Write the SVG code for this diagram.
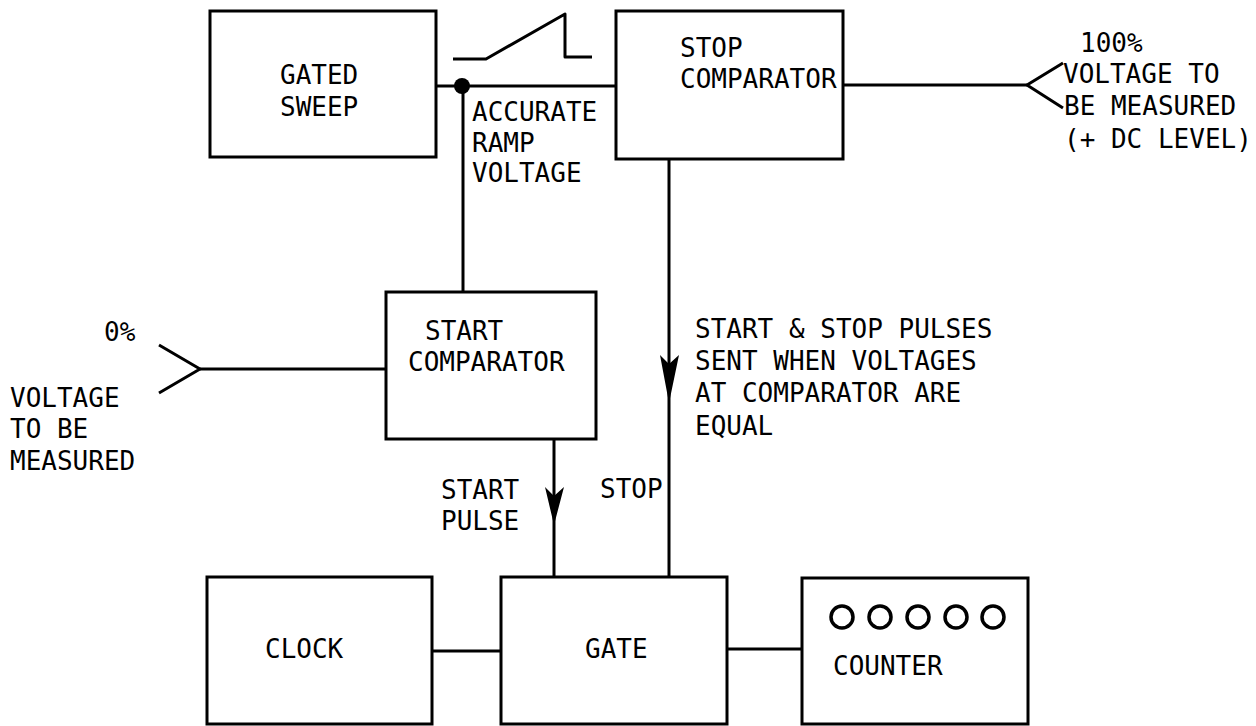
<svg xmlns="http://www.w3.org/2000/svg" width="1256" height="726" viewBox="0 0 1256 726">
<style>
.box{fill:#fff;stroke:#000;stroke-width:3}
.ln{fill:none;stroke:#000;stroke-width:3;stroke-linejoin:round}
.t{font-family:"DejaVu Sans Mono","Liberation Mono",monospace;font-size:26px;fill:#000}
</style>
<rect width="1256" height="726" fill="#fff"/>
<g id="connectors">
<polyline class="ln" points="436,86 616,86"/>
<polyline class="ln" points="463,86 463,292"/>
<polyline class="ln" points="843,85 1027,85"/>
<polyline class="ln" points="1063,63 1027,85 1063,108"/>
<polyline class="ln" points="200,369 386,369"/>
<polyline class="ln" points="159,345 200,369 159,393"/>
<polyline class="ln" points="554,440 554,577"/>
<path d="M545,487 L554,496 L564,487 L554,525 Z" fill="#000"/>
<polyline class="ln" points="669,160 669,577"/>
<path d="M660,355 L669,364 L679,355 L669,403 Z" fill="#000"/>
<polyline class="ln" points="432,651 501,651"/>
<polyline class="ln" points="727,649 802,649"/>
<circle cx="462" cy="86" r="8" fill="#000"/>
<polyline class="ln" points="453,59 486,59 565,14 565,57 592,57"/>
</g>
<g id="gated-sweep">
<rect class="box" x="210" y="11" width="226" height="146"/>
<text class="t" x="280" y="84">GATED</text>
<text class="t" x="280" y="116">SWEEP</text>
</g>
<g id="ramp-label">
<text class="t" x="472" y="121">ACCURATE</text>
<text class="t" x="472" y="152">RAMP</text>
<text class="t" x="472" y="182">VOLTAGE</text>
</g>
<g id="stop-comparator">
<rect class="box" x="616" y="11" width="227" height="148"/>
<text class="t" x="680" y="57">STOP</text>
<text class="t" x="680" y="88">COMPARATOR</text>
</g>
<g id="input-100">
<text class="t" x="1080" y="52">100%</text>
<text class="t" x="1063" y="83">VOLTAGE TO</text>
<text class="t" x="1064" y="115">BE MEASURED</text>
<text class="t" x="1064" y="148">(+ DC LEVEL)</text>
</g>
<g id="start-comparator">
<rect class="box" x="386" y="292" width="210" height="147"/>
<text class="t" x="425" y="340">START</text>
<text class="t" x="408" y="371">COMPARATOR</text>
</g>
<g id="input-0">
<text class="t" x="104" y="341">0%</text>
<text class="t" x="10" y="407">VOLTAGE</text>
<text class="t" x="10" y="438">TO BE</text>
<text class="t" x="10" y="470">MEASURED</text>
</g>
<g id="labels">
<text class="t" x="441" y="499">START</text>
<text class="t" x="441" y="530">PULSE</text>
<text class="t" x="600" y="498">STOP</text>
<text class="t" x="695" y="338">START &amp; STOP PULSES</text>
<text class="t" x="695" y="370">SENT WHEN VOLTAGES</text>
<text class="t" x="695" y="402">AT COMPARATOR ARE</text>
<text class="t" x="695" y="435">EQUAL</text>
</g>
<g id="clock">
<rect class="box" x="207" y="577" width="225" height="147"/>
<text class="t" x="265" y="658">CLOCK</text>
</g>
<g id="gate">
<rect class="box" x="501" y="577" width="226" height="147"/>
<text class="t" x="585" y="658">GATE</text>
</g>
<g id="counter">
<rect class="box" x="802" y="578" width="226" height="146"/>
<g fill="none" stroke="#000" stroke-width="3.5">
<circle cx="842" cy="617" r="11"/>
<circle cx="880" cy="617" r="11"/>
<circle cx="918" cy="617" r="11"/>
<circle cx="956" cy="617" r="11"/>
<circle cx="993" cy="617" r="11"/>
</g>
<text class="t" x="833" y="675">COUNTER</text>
</g>
</svg>
